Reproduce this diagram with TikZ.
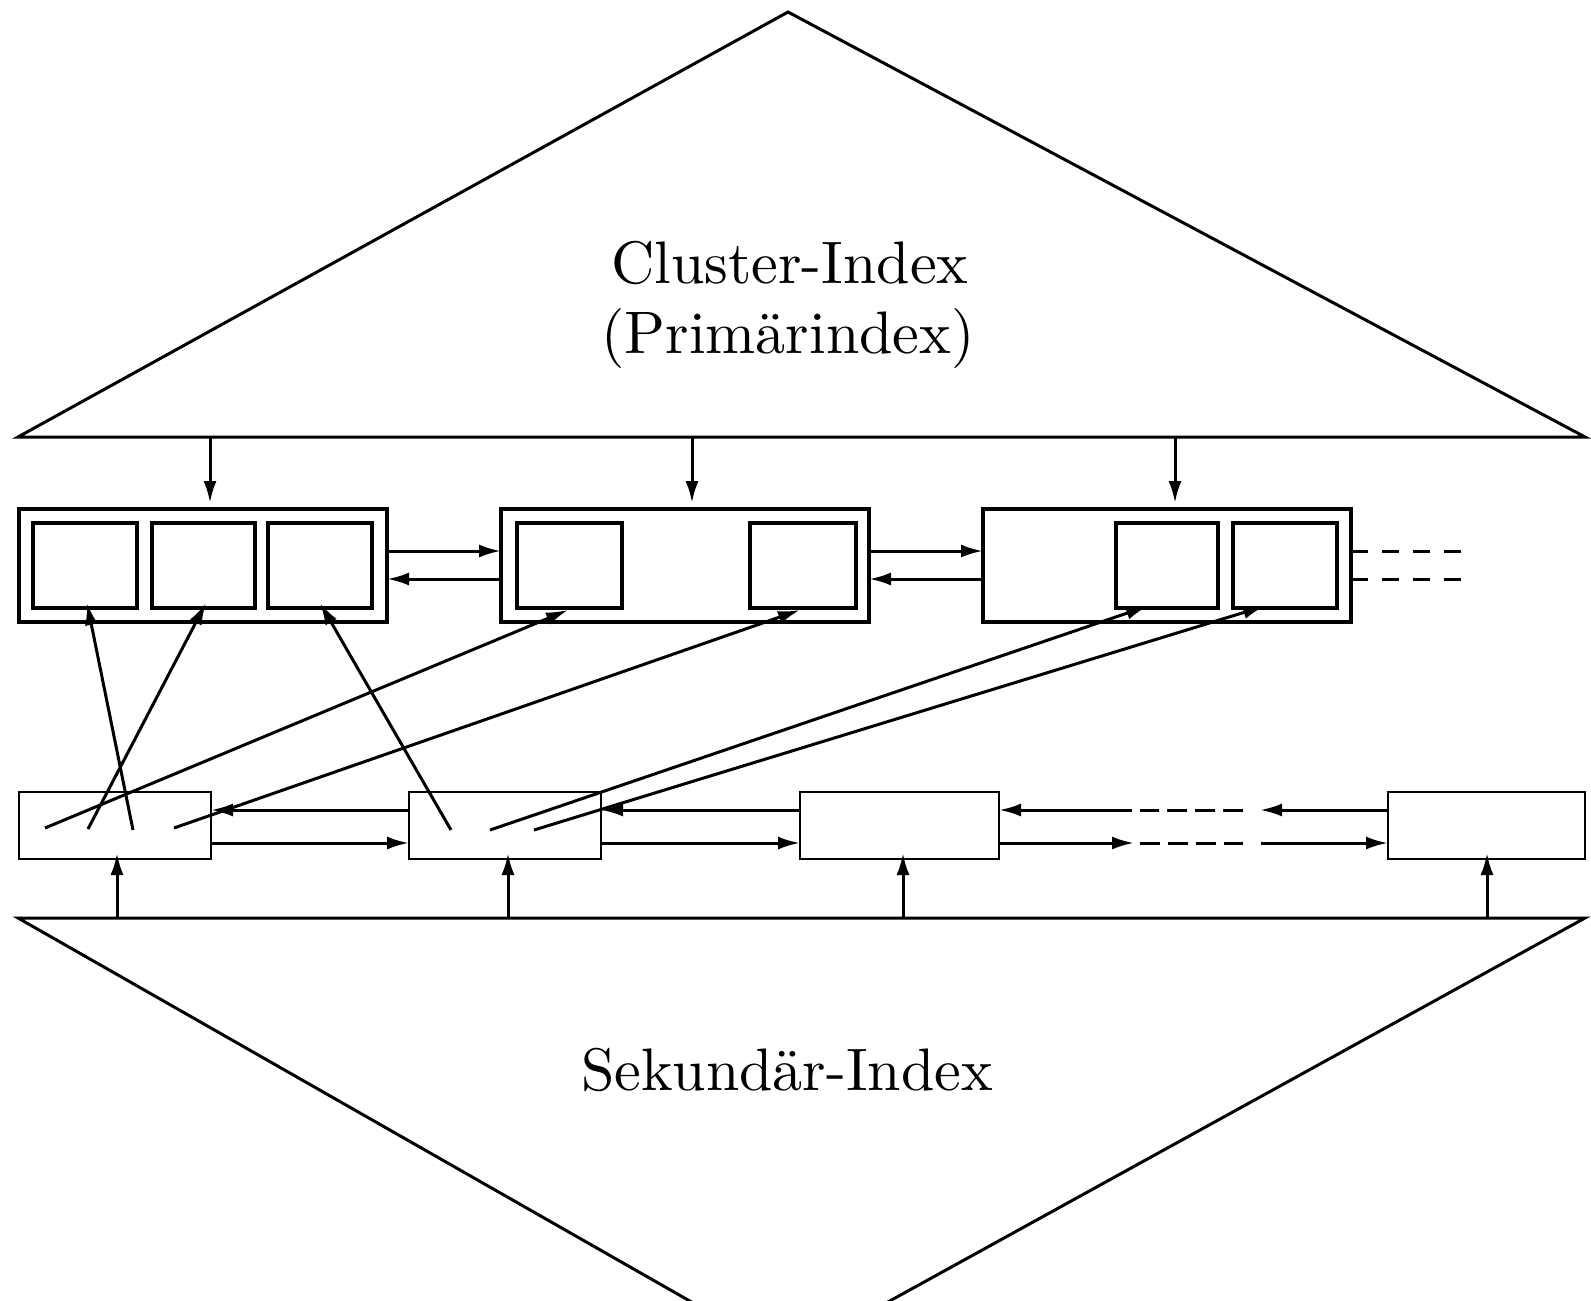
\documentclass[tikz,border=0pt]{standalone}
\usetikzlibrary{arrows.meta,calc}
\begin{document}
\begin{tikzpicture}[x=1pt,y=-1pt,
  lw/.style={line width=3pt},
  tri/.style={line width=3pt},
  arr/.style={line width=3pt,-{Latex[length=22pt,width=13pt]}},
  dashpat/.style={line width=3pt,dash pattern=on 20pt off 8pt},
  blockbox/.style={draw,line width=3.1pt,minimum width=368pt,minimum height=113pt,anchor=north west,inner sep=0pt,outer sep=0pt},
  cellbox/.style={draw,line width=3.1pt,minimum height=85pt,anchor=north west,inner sep=0pt,outer sep=0pt},
  recbox/.style={draw,line width=2.6pt,minimum height=67pt,anchor=north west,inner sep=0pt,outer sep=0pt},
  lbl/.style={scale=6.0,anchor=base,inner sep=0pt}]
\useasboundingbox (0,0) rectangle (1591,1301);
\clip (0,0) rectangle (1591,1301);

% triangles
\coordinate (tl) at (18,437); \coordinate (tr) at (1585,437); \coordinate (ta) at (788,12);
\draw[tri] (tl) -- (ta) -- (tr) -- cycle;
\coordinate (bl) at (18,918); \coordinate (br) at (1585,918); \coordinate (ba) at (788,1357);
\draw[tri] (ba) -- (bl) -- (br) -- cycle;

% labels
\node[lbl] (t1) at (790,283) {Cluster-Index};
\node[lbl] (t2) at (788,353) {(Primärindex)};
\node[lbl] (t3) at (787,1090) {Sekundär-Index};

% cluster blocks
\node[blockbox] (B1) at (19,509) {};
\node[blockbox] (B2) at (501,509) {};
\node[blockbox] (B3) at (983,509) {};
\node[cellbox,minimum width=104pt] (b11) at (33,523) {};
\node[cellbox,minimum width=103pt] (b12) at (152,523) {};
\node[cellbox,minimum width=104pt] (b13) at (268,523) {};
\node[cellbox,minimum width=105pt] (b21) at (517,523) {};
\node[cellbox,minimum width=106pt] (b22) at (750,523) {};
\node[cellbox,minimum width=102pt] (b31) at (1116,523) {};
\node[cellbox,minimum width=104pt] (b32) at (1233,523) {};

% secondary row
\node[recbox,minimum width=192pt] (L1) at (19,792) {};
\node[recbox,minimum width=192pt] (L2) at (409,792) {};
\node[recbox,minimum width=199pt] (L3) at (800,792) {};
\node[recbox,minimum width=197pt] (L4) at (1388,792) {};

% helper levels
\coordinate (yA) at (0,551); \coordinate (yB) at (0,579);
\coordinate (yC) at (0,810); \coordinate (yD) at (0,843);

% down arrows from cluster index
\coordinate (dn1) at (210,503); \coordinate (dn2) at (692,503); \coordinate (dn3) at (1175,503);
\draw[arr] (dn1 |- tl) -- (dn1);
\draw[arr] (dn2 |- tl) -- (dn2);
\draw[arr] (dn3 |- tl) -- (dn3);

% up arrows from secondary index
\coordinate (up1) at (117,853); \coordinate (up2) at (508,853);
\coordinate (up3) at (903,853); \coordinate (up4) at (1487,853);
\draw[arr] (up1 |- bl) -- (up1);
\draw[arr] (up2 |- bl) -- (up2);
\draw[arr] (up3 |- bl) -- (up3);
\draw[arr] (up4 |- bl) -- (up4);

% links between cluster blocks
\draw[arr] (B1.east |- yA) -- (B2.west |- yA);
\draw[arr] (B2.west |- yB) -- (B1.east |- yB);
\draw[arr] (B2.east |- yA) -- (B3.west |- yA);
\draw[arr] (B3.west |- yB) -- (B2.east |- yB);
\coordinate (e1) at (1468,551); \coordinate (e2) at (1468,579);
\draw[lw,dash pattern=on 17pt off 14pt] (B3.east |- yA) -- (e1);
\draw[lw,dash pattern=on 17pt off 14pt] (B3.east |- yB) -- (e2);

% links in secondary row
\draw[arr] (L2.west |- yC) -- (L1.east |- yC);
\draw[arr] (L1.east |- yD) -- (L2.west |- yD);
\draw[arr] (L3.west |- yC) -- (L2.east |- yC);
\draw[arr] (L2.east |- yD) -- (L3.west |- yD);
\coordinate (u1) at (1260,810); \coordinate (u2) at (1243,810);
\coordinate (u3) at (1140,810); \coordinate (u4) at (1132,810);
\coordinate (w1) at (1134,843); \coordinate (w2) at (1140,843);
\coordinate (w3) at (1243,843); \coordinate (w4) at (1261,843);
\draw[arr] (L4.west |- yC) -- (u1);
\draw[dashpat] (u2) -- (u3);
\draw[arr] (u4) -- (L3.east |- yC);
\draw[arr] (L3.east |- yD) -- (w1);
\draw[dashpat] (w2) -- (w3);
\draw[arr] (w4) -- (L4.west |- yD);

% pointers from secondary entries to records
\coordinate (s1) at (45,828); \coordinate (s2) at (88,829);
\coordinate (s3) at (133,830); \coordinate (s4) at (174,828);
\coordinate (s5) at (451,830); \coordinate (s6) at (490,830);
\coordinate (s7) at (534,830);
\draw[arr] (s3) -- ([xshift=2pt,yshift=5pt]b11.south);
\draw[arr] (s2) -- ([xshift=2.5pt,yshift=5pt]b12.south);
\draw[arr] (s5) -- ([yshift=5pt]b13.south);
\draw[arr] (s1) -- ([xshift=-1.5pt,yshift=-2pt]b21.south);
\draw[arr] (s4) -- ([xshift=-3pt,yshift=-2pt]b22.south);
\draw[arr] (s6) -- ([xshift=-19pt,yshift=2pt]b31.south);
\draw[arr] (s7) -- ([xshift=-20pt,yshift=2pt]b32.south);
\end{tikzpicture}
\end{document}
